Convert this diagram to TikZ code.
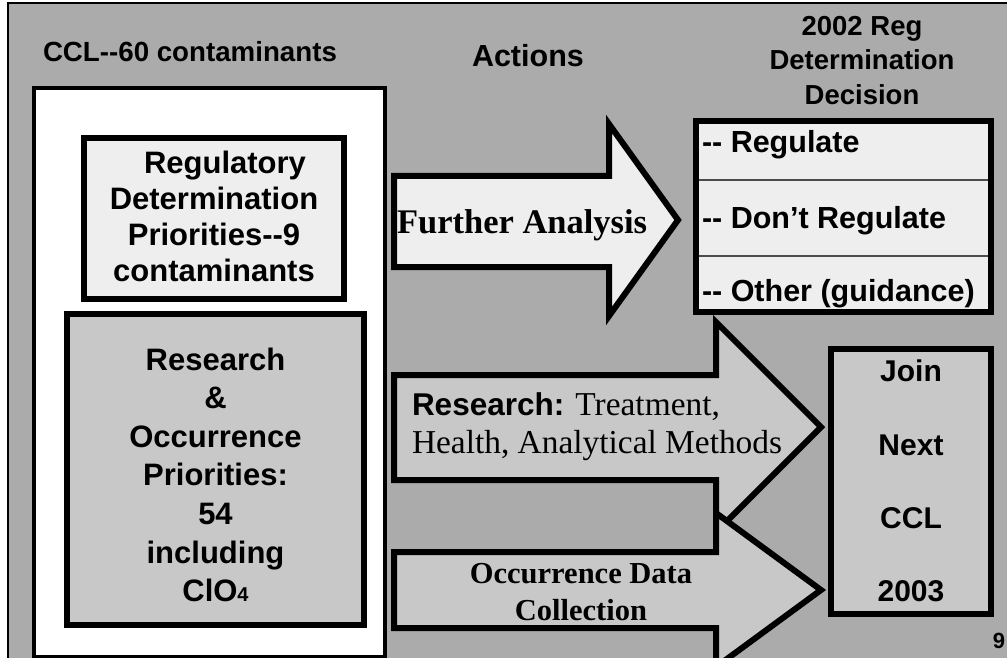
\documentclass[tikz,border=0pt]{standalone}
\usepackage{fontspec}
\setmainfont{Liberation Serif}
\newfontfamily\arialf{Liberation Sans}
\definecolor{bgc}{HTML}{ABABAB}
\definecolor{lightf}{HTML}{EEEEEE}
\definecolor{midf}{HTML}{C8C8C8}
\newcommand{\fsz}[2]{\fontsize{#1}{#2}\selectfont}
\begin{document}
\begin{tikzpicture}[x=1pt,y=-1pt,
  box/.style={draw=black, line width=6pt, rectangle, inner sep=0pt, outer sep=0pt},
  blockarrow/.style={draw=black, line width=6pt, line join=miter, miter limit=10},
  lbl/.style={inner sep=0pt, outer sep=0pt, text=black},
]
\useasboundingbox (0,0) rectangle (1007,658);
\fill[white] (0,0) rectangle (1007,658);
\fill[bgc] (7,3) rectangle (1007,658);
\draw[line width=2pt] (7.5,660) -- (7.5,3.5) -- (1007,3.5);

% headers
\node[lbl, anchor=base west, font=\arialf\bfseries\fsz{27.7}{33}] (cclh) at (43,61.7) {CCL-{}-60 contaminants};
\node[lbl, anchor=base west, font=\arialf\bfseries\fsz{30.5}{36}] (acth) at (472,66.7) {Actions};
\node[lbl, anchor=north, align=center, font=\arialf\bfseries\fsz{27.5}{34.7}] (dech) at (862,16) {2002 Reg\\Determination\\Decision};

% CCL container
\node[box, line width=4.5pt, fill=white, minimum width=351pt, minimum height=569pt] (ccl) at (209.5,372.5) {};

% Regulatory determination box
\node[box, fill=lightf, minimum width=260pt, minimum height=161pt] (reg) at (214,218.5) {};
\node[lbl, anchor=north, align=center, font=\arialf\bfseries\fsz{31}{36}] (regt) at (214,150.7)
  {\hspace*{22pt}Regulatory\\Determination\\Priorities-{}-9\\contaminants};

% Research & occurrence box
\node[box, fill=midf, minimum width=297pt, minimum height=311pt] (res) at (215.5,469.5) {};
\node[lbl, anchor=north, align=center, font=\arialf\bfseries\fsz{31}{38.6}] (rest) at (215.5,347.7)
  {Research\\\&\\Occurrence\\Priorities:\\54\\including\\ClO{\fsz{20}{20}4}};

% Decision box
\node[box, fill=lightf, minimum width=295pt, minimum height=191pt] (dec) at (843.5,216.5) {};
\draw[line width=1.5pt, draw=black!70] (699,180) -- (988,180);
\draw[line width=1.5pt, draw=black!70] (699,256) -- (988,256);
\node[lbl, anchor=base west, font=\arialf\bfseries\fsz{30.5}{36}] (d1) at (702,153) {-{}- Regulate};
\node[lbl, anchor=base west, font=\arialf\bfseries\fsz{30.5}{36}] (d2) at (702,228.3) {-{}- Don’t Regulate};
\node[lbl, anchor=base west, font=\arialf\bfseries\fsz{30.5}{36}] (d3) at (702,301.7) {-{}- Other (guidance)};

% Join box
\node[box, fill=midf, minimum width=160pt, minimum height=265pt] (join) at (911,481.5) {};
\node[lbl, anchor=north, align=center, font=\arialf\bfseries\fsz{30}{73.3}] (joint) at (911,360)
  {Join\\Next\\CCL\\2003};

% block arrows
\draw[blockarrow, fill=lightf] (394,176) -- (609,176) -- (609,124) -- (678,220) -- (609,316) -- (609,267) -- (394,267) -- cycle;
\draw[blockarrow, fill=midf] (394,375) -- (716,375) -- (716,322) -- (821,427) -- (716,532) -- (716,480) -- (394,480) -- cycle;
\draw[blockarrow, fill=midf] (394,552) -- (716,552) -- (716,513) -- (821,590) -- (716,667) -- (716,628) -- (394,628) -- cycle;

% arrow texts
\node[lbl, anchor=base west, font=\bfseries\fsz{34.5}{40}] (fa) at (397,233.3) {Further Analysis};
\node[lbl, anchor=base west, font=\fsz{33.4}{38}] (ra) at (412,415) {{\arialf\bfseries\fsz{31.5}{38}Research:} Treatment,};
\node[lbl, anchor=base west, font=\fsz{33.4}{38}] (rb) at (412,453) {Health, Analytical Methods};
\node[lbl, anchor=base, font=\bfseries\fsz{30.5}{37}] (oa) at (581,583) {Occurrence Data};
\node[lbl, anchor=base, font=\bfseries\fsz{30.5}{37}] (ob) at (581,620) {Collection};

% page number
\node[lbl, anchor=base, font=\arialf\bfseries\fsz{22}{22}] (pg) at (999,648) {9};
\end{tikzpicture}
\end{document}
